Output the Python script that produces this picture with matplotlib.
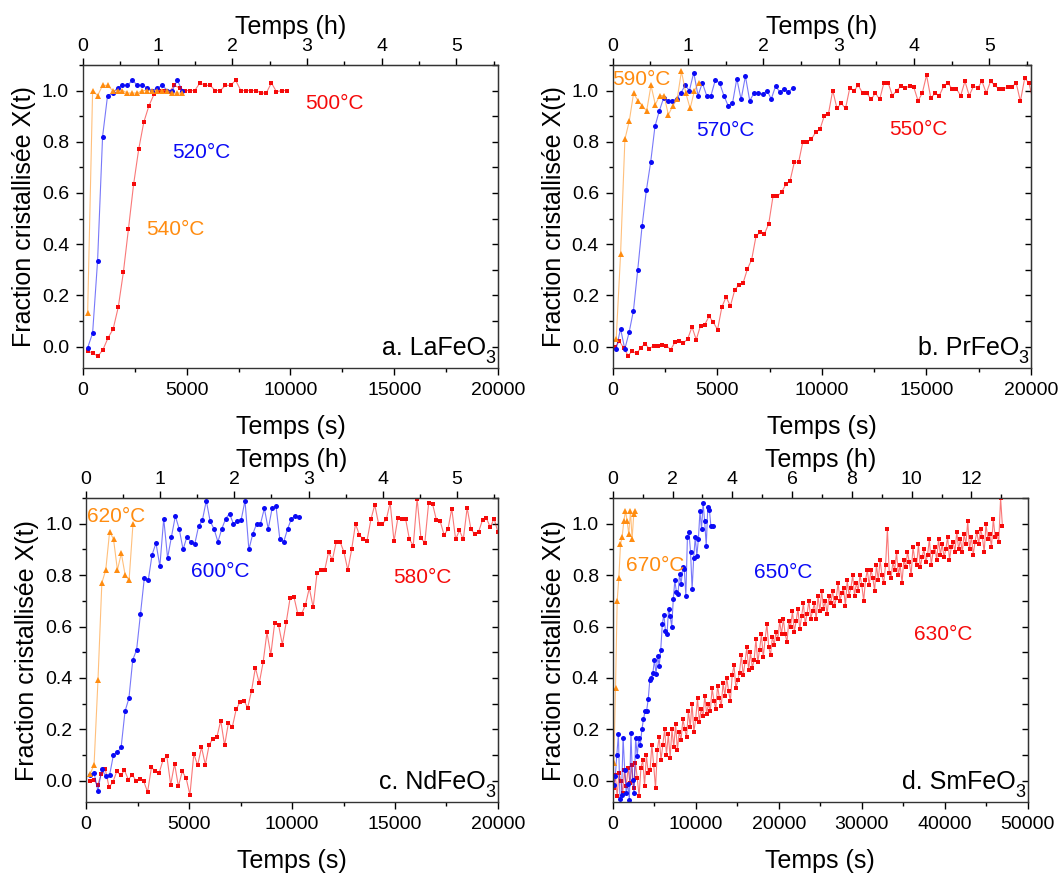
import numpy as np
import matplotlib
matplotlib.use("Agg")
import matplotlib.pyplot as plt
from matplotlib.ticker import MultipleLocator

plt.rcParams['font.family'] = ['Liberation Sans', 'DejaVu Sans']

RED = '#f50a0a'
BLUE = '#0a0af5'
ORANGE = '#ff8c10'

# ---- a. LaFeO3 : time = t0 + dt*i (s)
a_t0 = {'red': 224, 'blue': 224, 'orange': 224}
a_dt = {'red': 246, 'blue': 240, 'orange': 240}
a_red = [-0.018, -0.025, -0.038, -0.012, 0.034, 0.069, 0.154, 0.29, 0.46, 0.633,
         0.77, 0.876, 0.94, 0.985, 1.0, 1.0, 0.995, 1.02, 1.01, 1.0,
         1.0, 1.0, 1.03, 1.02, 1.02, 1.0, 1.0, 1.02, 1.02, 1.04,
         1.0, 1.0, 1.0, 1.0, 0.99, 0.99, 1.03, 0.995, 1.0, 1.0]
a_blue = [-0.005, 0.053, 0.336, 0.82, 0.98, 0.99, 1.01, 1.02, 1.02, 1.04,
          1.02, 1.02, 1.01, 1.0, 1.01, 1.02, 1.0, 1.0, 1.04, 1.0]
a_orange = [0.13, 1.0, 0.98, 1.02, 1.02, 1.0, 1.0, 1.0, 0.99, 0.99,
            0.99, 1.0, 1.0, 1.0, 1.0, 1.0, 1.0, 0.99, 0.99, 0.99]

# ---- b. PrFeO3
b_t0 = {'red': 112, 'blue': 160, 'orange': 160}
b_dt = {'red': 204, 'blue': 206, 'orange': 208}
b_red = [0.0, 0.02, -0.005, -0.035, -0.018, -0.027, -0.005, 0.012, -0.009, 0.004,
         0.004, 0.006, 0.004, -0.012, 0.017, 0.023, 0.014, 0.03, 0.077, 0.027,
         0.082, 0.086, 0.118, 0.095, 0.066, 0.154, 0.194, 0.158, 0.219, 0.242,
         0.249, 0.303, 0.34, 0.43, 0.448, 0.44, 0.48, 0.587, 0.587, 0.603,
         0.633, 0.648, 0.72, 0.72, 0.80, 0.80, 0.81, 0.837, 0.848, 0.90,
         0.91, 1.0, 0.93, 0.95, 0.93, 1.01, 1.0, 1.02, 0.99, 0.99,
         0.965, 0.99, 0.965, 1.03, 1.03, 0.98, 1.0, 1.017, 1.01, 1.017,
         1.013, 0.96, 0.99, 1.06, 0.97, 0.99, 0.98, 1.017, 1.03, 1.006,
         1.006, 0.98, 1.036, 0.98, 1.017, 1.01, 1.036, 0.99, 1.036, 1.02,
         1.006, 1.006, 1.013, 1.013, 1.03, 0.958, 1.047, 1.03, 0.958]
b_blue = [-0.01, 0.07, -0.01, 0.056, 0.14, 0.30, 0.47, 0.61, 0.72, 0.86,
          0.92, 0.97, 0.96, 0.96, 0.967, 0.99, 1.02, 1.0, 1.07, 0.98,
          1.03, 0.98, 0.98, 1.04, 1.03, 0.98, 0.94, 0.95, 1.046, 0.965,
          1.056, 0.96, 0.99, 0.99, 0.985, 1.0, 0.967, 1.017, 0.994, 1.005,
          0.994, 1.01]
b_orange = [0.03, 0.36, 0.81, 0.88, 0.99, 0.96, 0.94, 0.92, 1.02, 0.945,
            0.98, 0.98, 0.905, 0.94, 0.965, 1.075, 0.99, 0.93, 1.0, 1.03]

# ---- c. NdFeO3
c_t0 = {'red': 178, 'blue': 194, 'orange': 194}
c_dt = {'red': 187, 'blue': 188, 'orange': 189}
c_red = [0.0, 0.004, -0.018, 0.026, 0.045, -0.026, -0.005, 0.036, 0.02, 0.04,
         0.004, 0.023, 0.0, 0.008, -0.003, -0.044, 0.052, 0.036, 0.03, 0.08,
         0.095, -0.016, 0.066, -0.022, 0.036, 0.01, -0.055, 0.104, 0.06, 0.13,
         0.062, 0.14, 0.164, 0.17, 0.234, 0.137, 0.225, 0.208, 0.277, 0.306,
         0.312, 0.284, 0.35, 0.44, 0.38, 0.46, 0.577, 0.49, 0.613, 0.607,
         0.53, 0.616, 0.71, 0.716, 0.65, 0.65, 0.684, 0.75, 0.675, 0.807,
         0.82, 0.82, 0.89, 0.86, 0.93, 0.93, 0.89, 0.82, 0.90, 1.0,
         0.957, 0.94, 0.935, 1.017, 1.074, 1.0, 1.0, 1.017, 1.082, 0.932,
         1.022, 1.02, 1.02, 0.94, 0.915, 1.098, 0.944, 0.926, 1.082, 1.078,
         1.016, 1.01, 0.957, 0.978, 1.059, 0.94, 0.974, 0.94, 1.062, 0.978,
         0.96, 0.97, 1.016, 1.022, 0.987, 1.02, 0.967]
c_blue = [0.02, 0.03, -0.04, 0.045, 0.017, 0.02, 0.10, 0.11, 0.13, 0.27,
          0.32, 0.47, 0.51, 0.65, 0.79, 0.78, 0.88, 0.925, 0.835, 1.02,
          0.867, 0.95, 1.03, 0.98, 0.90, 0.95, 0.93, 0.92, 0.99, 1.015,
          1.09, 1.01, 0.98, 0.93, 0.98, 1.02, 1.04, 1.0, 1.01, 1.015,
          1.09, 0.90, 0.96, 1.0, 1.0, 1.06, 0.98, 1.06, 1.07, 0.94,
          0.93, 0.98, 1.02, 1.03, 1.026]
c_orange = [0.026, 0.062, 0.39, 0.77, 0.82, 0.97, 0.94, 0.82, 0.885, 0.80,
            0.78, 1.0]

# ---- d. SmFeO3
d_t0 = {'red': 80, 'blue': 100, 'orange': 120}
d_dt = {'red': 220, 'blue': 189, 'orange': 200}
d_red = [-0.03, 0.02, -0.06, 0.03, 0.0, -0.05, 0.04, -0.02, 0.05, -0.01,
         0.06, -0.03, 0.07, 0.01, -0.06, 0.05, 0.08, -0.02, 0.1, 0.03,
         0.04, 0.14, 0.06, -0.03, 0.12, 0.17, 0.08, 0.14, 0.2, 0.1,
         0.18, 0.09, 0.2, 0.13, 0.22, 0.12, 0.19, 0.16, 0.24, 0.2,
         0.17, 0.27, 0.21, 0.3, 0.19, 0.24, 0.32, 0.23, 0.28, 0.25,
         0.33, 0.26, 0.3, 0.27, 0.36, 0.31, 0.28, 0.37, 0.32, 0.29,
         0.38, 0.33, 0.4, 0.35, 0.31, 0.41, 0.45, 0.36, 0.39, 0.42,
         0.49, 0.41, 0.46, 0.52, 0.43, 0.5, 0.44, 0.47, 0.55, 0.46,
         0.51, 0.57, 0.48, 0.55, 0.61, 0.52, 0.49, 0.56, 0.53, 0.58,
         0.55, 0.62, 0.57, 0.63, 0.57, 0.54, 0.62, 0.6, 0.66, 0.58,
         0.62, 0.67, 0.59, 0.64, 0.69, 0.61, 0.65, 0.7, 0.63, 0.66,
         0.69, 0.63, 0.72, 0.66, 0.74, 0.67, 0.7, 0.65, 0.72, 0.69,
         0.74, 0.68, 0.71, 0.77, 0.7, 0.73, 0.75, 0.68, 0.78, 0.72,
         0.75, 0.8, 0.72, 0.77, 0.74, 0.8, 0.76, 0.7, 0.78, 0.82,
         0.76, 0.82, 0.79, 0.74, 0.84, 0.78, 0.86, 0.8, 0.77, 0.84,
         0.98, 0.81, 0.79, 0.85, 0.82, 0.89, 0.8, 0.84, 0.77, 0.86,
         0.83, 0.89, 0.85, 0.8, 0.91, 0.86, 0.84, 0.92, 0.83, 0.87,
         0.9, 0.85, 0.88, 0.94, 0.84, 0.89, 0.91, 0.86, 0.94, 0.88,
         0.92, 0.87, 0.9, 0.95, 0.86, 0.91, 0.93, 0.89, 0.97, 0.9,
         0.94, 0.89, 0.96, 0.92, 1.01, 0.9, 0.95, 0.88, 0.93, 0.97,
         0.92, 0.98, 0.95, 0.89, 1.0, 0.94, 0.96, 0.91, 1.02, 0.95,
         0.96, 0.93, 1.1, 0.99]
d_blue = [-0.016, 0.017, 0.10, 0.18, -0.07, -0.055, 0.167, 0.043, -0.048, -0.013,
          -0.074, 0.186, 0.004, -0.048, 0.167, 0.095, 0.167, 0.14, 0.20, 0.24,
          0.27, 0.273, 0.316, 0.39, 0.40, 0.42, 0.47, 0.414, 0.486, 0.447,
          0.51, 0.61, 0.646, 0.583, 0.57, 0.67, 0.64, 0.60, 0.707, 0.78,
          0.733, 0.727, 0.805, 0.766, 0.83, 0.824, 0.72, 0.948, 0.967, 0.89,
          0.746, 0.867, 0.948, 0.876, 0.94, 1.05, 0.98, 1.08, 1.01, 0.915,
          1.065, 1.055, 0.99, 0.99]
d_orange = [0.07, 0.36, 0.70, 0.79, 0.92, 0.95, 1.01, 1.05, 1.01, 0.96,
            1.05, 0.94, 1.04, 1.05]

# top axis (hours) tick labels
hours_short = [0, 1, 2, 3, 4, 5]
hours_long = [0, 2, 4, 6, 8, 10, 12]

panels = [
    dict(pos=[0.078, 0.580, 0.390, 0.346], xmax=20000, hticks=hours_short, smin=2500,
         t0=a_t0, dt=a_dt, red=a_red, blue=a_blue, orange=a_orange,
         name='a. LaFeO',
         labels=[('500°C', RED, 10700, 0.95), ('520°C', BLUE, 4290, 0.758),
                 ('540°C', ORANGE, 3040, 0.457)]),
    dict(pos=[0.576, 0.580, 0.393, 0.346], xmax=20000, hticks=hours_short, smin=2500,
         t0=b_t0, dt=b_dt, red=b_red, blue=b_blue, orange=b_orange,
         name='b. PrFeO',
         labels=[('590°C', ORANGE, -20, 1.043), ('570°C', BLUE, 3970, 0.845),
                 ('550°C', RED, 13200, 0.848)]),
    dict(pos=[0.081, 0.085, 0.387, 0.347], xmax=20000, hticks=hours_short, smin=2500,
         t0=c_t0, dt=c_dt, red=c_red, blue=c_blue, orange=c_orange,
         name='c. NdFeO',
         labels=[('620°C', ORANGE, 30, 1.027), ('600°C', BLUE, 5100, 0.816),
                 ('580°C', RED, 14900, 0.79)]),
    dict(pos=[0.576, 0.085, 0.390, 0.347], xmax=50000, hticks=hours_long, smin=5000,
         t0=d_t0, dt=d_dt, red=d_red, blue=d_blue, orange=d_orange,
         name='d. SmFeO',
         labels=[('670°C', ORANGE, 1570, 0.836), ('650°C', BLUE, 17000, 0.81),
                 ('630°C', RED, 36270, 0.57)]),
]

fig = plt.figure(figsize=(10.64, 8.77), dpi=100)

for p in panels:
    ax = fig.add_axes(p['pos'])
    for key, col, mk, ms in [('red', RED, 's', 3.3), ('blue', BLUE, 'o', 3.6),
                             ('orange', ORANGE, '^', 4.2)]:
        y = np.array(p[key])
        t = p['t0'][key] + p['dt'][key] * np.arange(len(y))
        ax.plot(t, y, '-', color=col, lw=0.8, alpha=0.55)
        ax.plot(t, y, mk, color=col, ms=ms, mew=0)
    for txt, col, x, y in p['labels']:
        ax.text(x, y, txt, color=col, fontsize=15, ha='left', va='center')
    # sample name with a large subscript 3, as in the original
    ax.text(0.971, 0.045, p['name'], transform=ax.transAxes, fontsize=18,
            ha='right', va='baseline')
    ax.text(0.994, 0.005, '3', transform=ax.transAxes, fontsize=13,
            ha='right', va='bottom')

    ax.set_xlim(0, p['xmax'])
    ax.set_ylim(-0.085, 1.1)
    ax.yaxis.set_major_locator(MultipleLocator(0.2))
    ax.yaxis.set_minor_locator(MultipleLocator(0.1))
    ax.xaxis.set_major_locator(MultipleLocator(p['smin'] * 2))
    ax.xaxis.set_minor_locator(MultipleLocator(p['smin']))
    ax.yaxis.set_major_formatter(matplotlib.ticker.FormatStrFormatter('%.1f'))
    ax.tick_params(which='both', direction='out', top=False, right=False,
                   labelsize=14, pad=5)
    ax.tick_params(which='major', length=5, width=1)
    ax.tick_params(which='minor', length=3, width=1)
    ax.set_xlabel('Temps (s)', fontsize=18, labelpad=11)
    ax.set_ylabel('Fraction cristallisée X(t)', fontsize=18, labelpad=4)
    for s in ax.spines.values():
        s.set_color('#333333')
        s.set_linewidth(1.0)

    hmax = p['xmax'] / 3600.0
    step = p['hticks'][1] - p['hticks'][0]
    top = ax.secondary_xaxis('top', functions=(lambda s: s / 3600.0,
                                               lambda h: h * 3600.0))
    top.set_xticks(p['hticks'])
    top.set_xticks([h + step / 2 for h in p['hticks'] if h + step / 2 < hmax],
                   minor=True)
    top.tick_params(which='both', direction='out', labelsize=14, pad=2)
    top.tick_params(which='major', length=5, width=1)
    top.tick_params(which='minor', length=3, width=1)
    top.set_xlabel('Temps (h)', fontsize=18, labelpad=3)

    right = ax.secondary_yaxis('right')
    right.yaxis.set_major_locator(MultipleLocator(0.1))
    right.tick_params(direction='in', length=4, width=1, labelright=False)

fig.savefig('out.png', dpi=100)
